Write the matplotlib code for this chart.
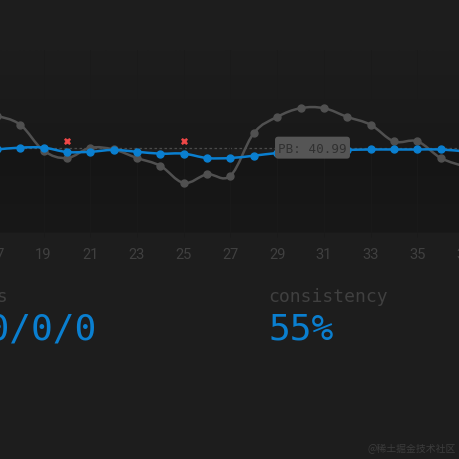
import matplotlib.pyplot as plt
from matplotlib.colors import LinearSegmentedColormap
from matplotlib.patches import FancyBboxPatch, PathPatch
from matplotlib.path import Path
import numpy as np

laps = [17, 18, 19, 20, 21, 22, 23, 24, 25, 26, 27, 28, 29, 30, 31, 32, 33, 34, 35, 36, 37]
wpm = [40.1, 41.0, 41.0, 38.9, 39.0, 39.9, 39.0, 38.1, 38.1, 36.0, 36.0, 37.1, 38.4, 39.0, 39.6, 39.9, 40.1, 40.1, 40.1, 40.1, 39.2]
raw = [56.4, 52.1, 39.6, 36.0, 40.9, 40.1, 36.0, 32.2, 24.0, 28.1, 27.5, 48.0, 55.8, 60.0, 60.0, 55.8, 52.0, 44.0, 44.0, 36.0, 32.0]
error_laps = [20, 25]
error_vals = [44.3, 44.3]
pb = 40.99
tick_laps = [17, 19, 21, 23, 25, 27, 29, 31, 33, 35, 37]

bg = '#1d1d1d'
blue = '#0a7fd0'
gray = '#505050'
dim = '#404040'
line_grid = '#1a1a1a'


def smooth_path(xs, ys, t=0.18):
    # same idea as a chart line with tension, curve goes through every value
    verts = [(xs[0], ys[0])]
    codes = [Path.MOVETO]
    for i in range(len(xs) - 1):
        a = max(i - 1, 0)
        b = min(i + 2, len(xs) - 1)
        verts.append((xs[i] + (xs[i + 1] - xs[a]) * t, ys[i] + (ys[i + 1] - ys[a]) * t))
        verts.append((xs[i + 1] - (xs[b] - xs[i]) * t, ys[i + 1] - (ys[b] - ys[i]) * t))
        verts.append((xs[i + 1], ys[i + 1]))
        codes += [Path.CURVE4, Path.CURVE4, Path.CURVE4]
    return Path(verts, codes)


fig = plt.figure(figsize=(4.6, 4.6), dpi=100, facecolor=bg)

# axes runs past the canvas so the 17 and 37 ticks still show cut off
px = 23.37
py = 2.074
ax = fig.add_axes([-40 / 460, (460 - 233.7) / 460, 540 / 460, 183 / 460], facecolor='none')
xlim = (19 - (43.5 + 40) / px, 19 + (500 - 43.5) / px)
ylim = (0, 88.2)

ax.set_xticks(tick_laps)
ax.set_xticklabels([str(t) for t in tick_laps], family='Roboto', fontsize=10.5, color=dim)
ax.tick_params(axis='x', length=3, width=0.7, color=line_grid, pad=7)
ax.set_yticks([])
for s in ax.spines.values():
    s.set_visible(False)
ax.grid(axis='x', color=line_grid, linewidth=0.7, zorder=0.5)

# background fades a little toward the line, then darker under the blue line
ramp = np.linspace(0, 1, 64).reshape(-1, 1)
ax.imshow(ramp, extent=[xlim[0], xlim[1], 41, 88.2], aspect='auto', origin='lower',
          cmap=LinearSegmentedColormap.from_list('top', ['#191919', '#1d1d1d']), zorder=0)
im = ax.imshow(ramp, extent=[xlim[0], xlim[1], 0, 41], aspect='auto', origin='lower',
               cmap=LinearSegmentedColormap.from_list('under', ['#181818', '#151515']), zorder=0.2)
under = ax.fill_between(laps, wpm, 0, color='none')
im.set_clip_path(under.get_paths()[0], ax.transData)
ax.set_xlim(xlim)
ax.set_ylim(ylim)

ax.axhline(pb, color='#4a4a4a', linewidth=0.9, linestyle=(0, (2, 2)), zorder=1)
ax.add_patch(PathPatch(smooth_path(laps, raw), facecolor='none', edgecolor=gray, linewidth=1.8, zorder=2))
ax.plot(laps, raw, color=gray, linestyle='none', marker='o', markersize=5, zorder=2)
ax.add_patch(PathPatch(smooth_path(laps, wpm), facecolor='none', edgecolor=blue, linewidth=1.8, zorder=3))
ax.plot(laps, wpm, color=blue, linestyle='none', marker='o', markersize=5, zorder=3)
ax.plot(error_laps, error_vals, linestyle='none', marker='X', markersize=5, color='#f04848',
        markeredgecolor='#f04848', markeredgewidth=0.4, zorder=4)

# PB tooltip
box_x = 19 + (312.5 - 43.5) / px
ax.add_patch(FancyBboxPatch((box_x - 34.7 / px, pb - 8.2 / py), 69.4 / px, 16.4 / py, boxstyle='round,pad=0',
                            mutation_scale=0.01, facecolor='#555555', edgecolor='#555555', zorder=5,
                            linewidth=4, joinstyle='round'))
ax.text(box_x, pb - 0.3, 'PB: %.2f' % pb, family='DejaVu Sans Mono', fontsize=9.1, color='#303030',
        ha='center', va='center', zorder=6)

fig.text(8 / 460, 1 - 296.5 / 460, 'characters', family='DejaVu Sans Mono', fontsize=13, color=dim, ha='right', va='center')
fig.text(97 / 460, 1 - 329.5 / 460, '0/0/0/0', family='DejaVu Sans Mono', fontsize=26, color=blue, ha='right', va='center')
fig.text(268 / 460, 1 - 296.5 / 460, 'consistency', family='DejaVu Sans Mono', fontsize=13, color=dim, ha='left', va='center')
fig.text(269 / 460, 1 - 329.5 / 460, '55%', family='DejaVu Sans Mono', fontsize=26, color=blue, ha='left', va='center')
fig.text(456 / 460, 1 - 449 / 460, '@稀土掘金技术社区', family=['Noto Sans CJK SC', 'DejaVu Sans'], fontsize=7.1,
         color='#3c3c3c', ha='right', va='center')

fig.savefig('out.png', dpi=100, facecolor=bg)
